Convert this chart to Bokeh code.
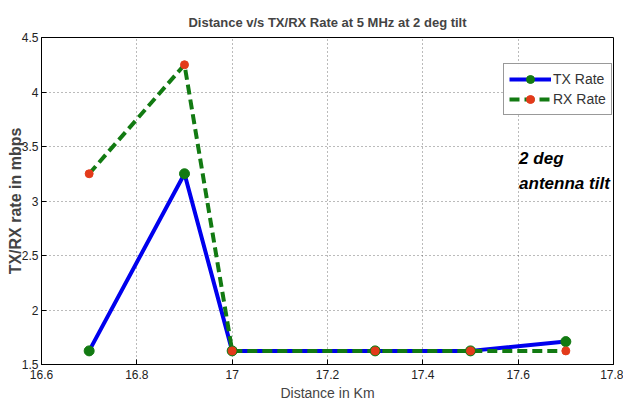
from bokeh.plotting import figure
from bokeh.models import Legend, LegendItem, Label, FixedTicker, Range1d
from bokeh.embed import file_html
from bokeh.resources import INLINE

distance = [16.7, 16.9, 17.0, 17.3, 17.5, 17.7]
tx_rate = [1.625, 3.25, 1.625, 1.625, 1.625, 1.71]
rx_rate = [3.25, 4.25, 1.625, 1.625, 1.625, 1.625]
x_ticks = [16.6, 16.8, 17.0, 17.2, 17.4, 17.6, 17.8]
x_tick_labels = ["16.6", "16.8", "17", "17.2", "17.4", "17.6", "17.8"]
y_ticks = [1.5, 2.0, 2.5, 3.0, 3.5, 4.0, 4.5]
y_tick_labels = ["1.5", "2", "2.5", "3", "3.5", "4", "4.5"]

FONT = "Liberation Sans"

p = figure(width=623, height=403, output_backend="svg", toolbar_location=None,
           x_range=Range1d(16.6, 17.8), y_range=Range1d(1.5, 4.5),
           min_border_left=41, min_border_right=10, min_border_top=37, min_border_bottom=39)

p.title.text = "Distance v/s TX/RX Rate at 5 MHz at 2 deg tilt"
p.title.align = "center"
p.title.text_font = FONT
p.title.text_font_size = "13px"
p.title.text_font_style = "bold"
p.title.standoff = 15

p.outline_line_color = "black"
p.outline_line_width = 1

for ax in (p.xaxis[0], p.yaxis[0]):
    ax.major_tick_in = 5
    ax.major_tick_out = 0
    ax.minor_tick_in = 0
    ax.minor_tick_out = 0
    ax.major_label_text_font = FONT
    ax.major_label_text_font_size = "12px"
    ax.major_label_text_color = "#222222"
    ax.axis_label_text_font = FONT
    ax.axis_label_text_font_style = "normal"
    ax.axis_line_color = "black"

p.xaxis.ticker = FixedTicker(ticks=x_ticks)
p.yaxis.ticker = FixedTicker(ticks=y_ticks)
p.xaxis.major_label_overrides = dict(zip(x_ticks, x_tick_labels))
p.yaxis.major_label_overrides = dict(zip(y_ticks, y_tick_labels))
p.xaxis.axis_label = "Distance in Km"
p.yaxis.axis_label = "TX/RX rate in mbps"
p.xaxis.axis_label_text_font_size = "14px"
p.yaxis.axis_label_text_font_size = "16px"
p.yaxis.axis_label_text_font_style = "bold"
p.xaxis.major_label_standoff = 5
p.yaxis.major_label_standoff = 3
p.xaxis.axis_label_standoff = 3
p.yaxis.axis_label_standoff = -5

p.grid.grid_line_color = "#555555"
p.grid.grid_line_dash = "1 3"
p.grid.grid_line_alpha = 0.8

blue = "#0000ee"
green = "#127a12"
red = "#e33a1a"

tx_line = p.line(distance, tx_rate, line_color=blue, line_width=4)
tx_pts = p.scatter(distance, tx_rate, size=10, fill_color=green, line_color=green)
rx_line = p.line(distance, rx_rate, line_color=green, line_width=4, line_dash="10 5")
rx_pts = p.scatter(distance, rx_rate, size=8, fill_color=red, line_color=red)

legend = Legend(items=[LegendItem(label="TX Rate", renderers=[tx_line, tx_pts]),
                       LegendItem(label="RX Rate", renderers=[rx_line, rx_pts])],
                location=(462, 249))
legend.label_text_font = FONT
legend.label_text_font_size = "14px"
legend.label_text_color = "#333333"
legend.glyph_width = 42
legend.glyph_height = 20
legend.label_standoff = 2
legend.spacing = 0
legend.padding = 5
legend.margin = 0
legend.border_line_color = "#333333"
legend.border_line_width = 1
p.add_layout(legend, "center")

note1 = Label(x=17.602, y=3.39, text="2 deg", text_font=FONT,
              text_font_size="17px", text_font_style="bold italic",
              text_baseline="middle", text_color="black")
note2 = Label(x=17.602, y=3.16, text="antenna tilt", text_font=FONT,
              text_font_size="17px", text_font_style="bold italic",
              text_baseline="middle", text_color="black")
p.add_layout(note1)
p.add_layout(note2)

open("out.html", "w").write(file_html(p, INLINE))
